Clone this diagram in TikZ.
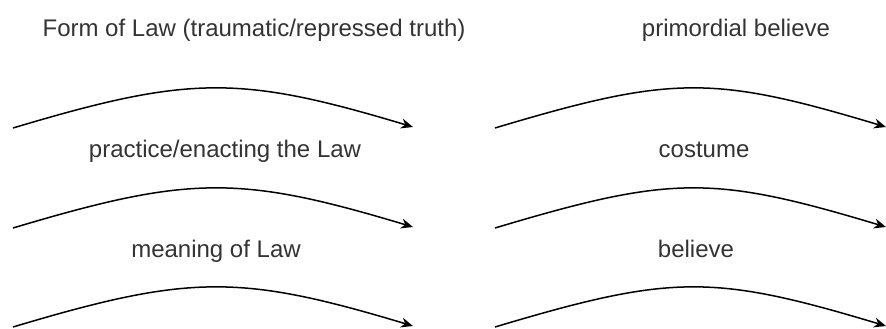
\documentclass[tikz,border=0pt]{standalone}
\usepackage{fontspec}
\setmainfont{Liberation Sans}
\usetikzlibrary{arrows.meta}
\definecolor{ink}{HTML}{333333}
\tikzset{
  lab/.style={text=ink, font=\fontsize{24}{28}\selectfont, inner sep=0pt, anchor=base},
  flow/.style={draw=black, line width=1.5pt, -{Stealth[length=12pt,width=10pt]}}
}

\begin{document}
\begin{tikzpicture}[x=1pt,y=-1pt]
  \useasboundingbox (0,0) rectangle (886,329);

  % left column
  \node[lab] (form)    at (254,37)  {Form of Law (traumatic/repressed truth)};
  \node[lab] (enact)   at (225,157) {practice/enacting the Law};
  \node[lab] (meaning) at (216,257) {meaning of Law};

  % right column
  \node[lab] (primo)   at (736,37)  {primordial believe};
  \node[lab] (costume) at (704,157) {costume};
  \node[lab] (belief)  at (696,257) {believe};

  % arcs
  \foreach \i/\y in {1/128,2/228,3/327} {
    \coordinate (L\i a) at (13,\y);
    \coordinate (L\i b) at (413,\y-1);
    \coordinate (R\i a) at (495,\y);
    \coordinate (R\i b) at (886,\y-1);
    \draw[flow] (L\i a) .. controls +(177,-53) and +(-173,-52) .. (L\i b);
    \draw[flow] (R\i a) .. controls +(177,-53) and +(-173,-52) .. (R\i b);
  }
\end{tikzpicture}
\end{document}
